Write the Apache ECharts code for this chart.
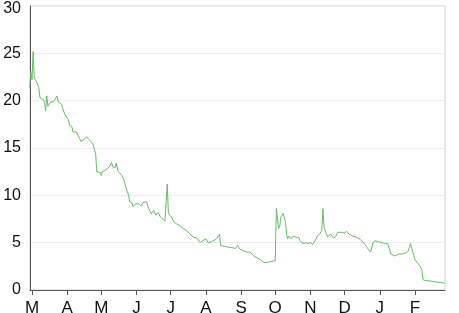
<!DOCTYPE html>
<html>
<head>
<meta charset="utf-8">
<script src="https://cdn.jsdelivr.net/npm/echarts@6/dist/echarts.min.js"></script>
<style>html,body{margin:0;padding:0;background:#fff}#c{width:459px;height:313px}</style>
</head>
<body>
<div id="c"></div>
<script>
// Day offsets from 1 March 2014 and the values
const startDate = [2014, 2, 1];
const days = [-2,-1,0,1,2,3,4,5,6,7,8,10,11,12,13,14,16,19,20,22,23,26,27,29,30,32,33,35,36,39,42,43,46,48,50,52,54,55,56,57,60,61,62,65,68,70,71,73,74,76,77,79,81,83,85,86,88,89,91,94,95,96,98,101,102,105,107,109,111,113,117,118,119,120,121,123,124,127,130,133,136,139,142,145,148,150,151,153,155,158,161,163,165,166,170,174,179,181,183,186,189,192,195,198,201,204,207,210,214,215,216,217,218,219,220,221,222,223,224,225,226,228,230,232,235,236,238,241,243,245,247,250,251,253,255,256,257,258,260,261,263,265,267,269,272,275,277,279,282,285,288,290,293,296,298,299,300,302,305,308,311,313,314,315,316,319,321,323,326,329,331,332,333,334,336,337,339,341,343,344,346,350,355,360,363];
const values = [21.4,23.1,22.2,25.2,22.4,22.2,22.0,21.7,21.4,20.3,20.1,20.1,19.8,18.9,20.5,19.4,19.8,19.9,20.1,20.5,19.9,19.6,19.2,18.5,18.3,18.0,17.4,17.3,16.7,16.7,16.0,15.7,15.9,16.2,15.9,15.7,15.3,14.8,14.4,12.5,12.4,12.1,12.5,12.7,13.0,13.5,13.0,12.9,13.4,12.5,12.3,12.1,11.6,10.7,10.0,9.3,9.2,8.8,9.1,9.1,9.2,8.9,9.3,9.3,8.8,8.05,8.4,7.9,8.2,7.7,7.3,7.5,11.2,8.2,7.9,7.7,7.3,7.0,6.8,6.5,6.3,5.9,5.6,5.5,5.0,5.2,5.0,5.4,5.0,5.1,5.3,5.5,5.9,4.7,4.6,4.5,4.4,4.7,4.3,4.15,4.0,4.0,3.6,3.4,3.2,2.9,2.9,3.0,3.1,8.6,8.4,6.5,6.8,7.7,7.9,8.1,7.6,7.2,5.9,5.4,5.7,5.4,5.7,5.6,5.5,5.2,4.9,5.0,4.9,5.0,4.8,5.4,5.7,5.9,6.3,8.6,6.6,6.3,5.6,5.4,5.9,5.5,5.6,6.1,6.1,6.0,6.2,5.9,5.7,5.6,5.4,5.2,4.8,4.3,4.0,4.1,5.0,5.2,5.1,5.0,4.9,4.9,4.7,4.1,3.8,3.6,3.7,3.8,3.8,3.9,4.1,4.5,4.9,5.0,3.6,3.2,2.9,2.6,2.2,1.1,1.0,0.96,0.85,0.8,0.7];
const monthLetters = ['J','F','M','A','M','J','J','A','S','O','N','D'];
const yTicks = [0, 5, 10, 15, 20, 25, 30];

const DAY = 86400000;
const t0 = new Date(startDate[0], startDate[1], startDate[2]).getTime();
const seriesData = days.map((d, i) => [t0 + d * DAY, values[i]]);
const yMax = yTicks[yTicks.length - 1];

const chart = echarts.init(document.getElementById('c'), null, {renderer: 'canvas'});
chart.setOption({
  animation: false,
  grid: {left: 30, right: 14, top: 6, bottom: 23, containLabel: false, outerBoundsMode: 'none',
         show: true, borderColor: '#d0d0d0', borderWidth: 1},
  xAxis: {
    type: 'time',
    min: t0 - 1.76 * DAY,
    max: t0 + 363.4 * DAY,
    minInterval: 28 * DAY,
    maxInterval: 31 * DAY,
    axisLine: {lineStyle: {color: '#555', width: 1}},
    axisTick: {show: true, length: 5, lineStyle: {color: '#555'}},
    axisLabel: {
      color: '#111', fontSize: 17, fontFamily: 'Liberation Sans, Arial, sans-serif', margin: 10,
      formatter: function (v) { return monthLetters[new Date(v).getMonth()]; }
    },
    splitLine: {show: false}
  },
  yAxis: {
    type: 'value', min: yTicks[0], max: yMax, interval: 5,
    axisLine: {show: true, lineStyle: {color: '#555', width: 1}},
    axisTick: {show: false},
    axisLabel: {
      color: '#111', fontSize: 16, fontFamily: 'Liberation Sans, Arial, sans-serif', margin: 9,
      formatter: function (v) { return v === yMax ? '{t|' + v + '}' : String(v); },
      rich: {t: {color: '#111', fontSize: 16, fontFamily: 'Liberation Sans, Arial, sans-serif', padding: [5, 0, 0, 0]}}
    },
    splitLine: {lineStyle: {color: '#ececec'}}
  },
  series: [{
    type: 'line', data: seriesData, showSymbol: false, symbol: 'none',
    lineStyle: {color: '#6ab86a', width: 1}
  }]
});
</script>
</body>
</html>
